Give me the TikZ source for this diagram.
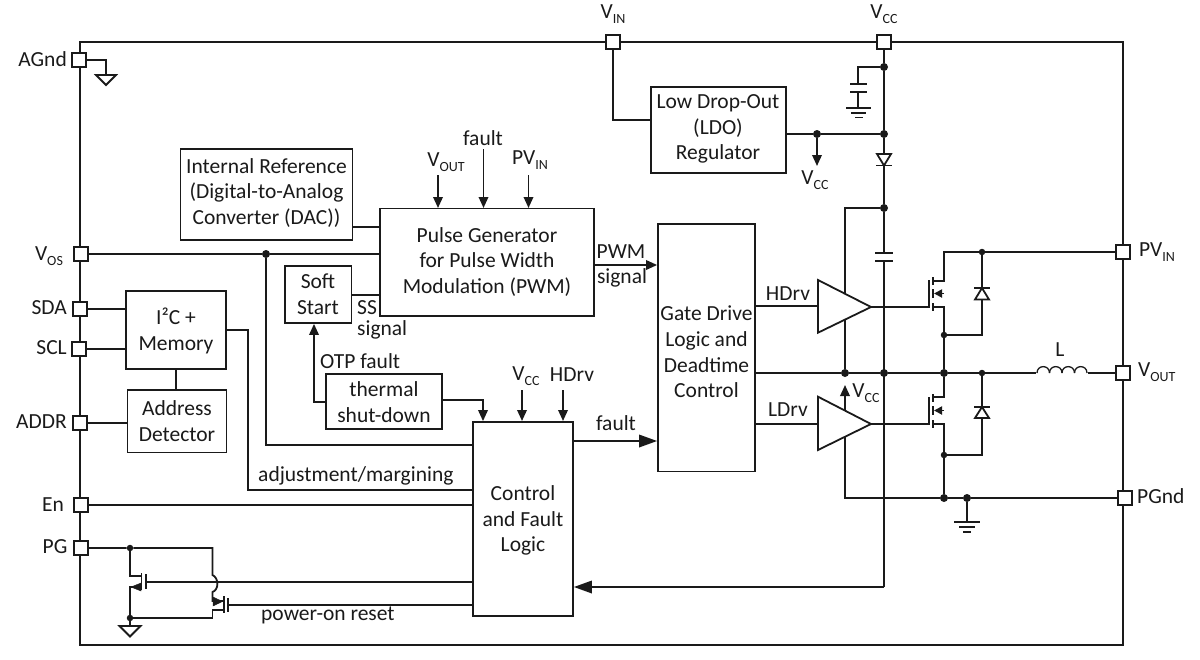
\documentclass[tikz,border=0pt]{standalone}
\usepackage{fontspec}
\setmainfont{Carlito}
\usetikzlibrary{arrows.meta,backgrounds}
\definecolor{ink}{HTML}{1A1A1A}
\newcommand{\subt}[1]{{\fontsize{14}{14}\selectfont\raisebox{-5.5pt}{#1}}}
\tikzset{
  x=1pt,y=-1pt,
  every node/.style={text=ink,font=\fontsize{21.5}{25.7}\selectfont,inner sep=0pt,align=center},
  wire/.style={draw=ink,line width=1.8pt},
  arr/.style={wire,-{Triangle[length=11pt,width=9.5pt]}},
  bigarr/.style={wire,-{Triangle[length=18pt,width=12.5pt]}},
  pin/.style={draw=ink,fill=white,line width=1.3pt,minimum size=14pt},
  box/.style={draw=ink,fill=white,line width=1.8pt},
  amp/.style={draw=ink,fill=white,line width=1.8pt,line join=miter},
  jn/.style={circle,fill=ink,minimum size=8pt},
  jns/.style={circle,fill=ink,minimum size=6.5pt},
}
\newcommand{\bx}[5]{\node[box,minimum width=#3-#2,minimum height=#5-#4] (#1) at ({(#2+#3)/2},{(#4+#5)/2}) {};}
\begin{document}
\begin{tikzpicture}
\useasboundingbox (0,0) rectangle (1200,659);
% pins
\node[pin] (pAgnd) at (79,60) {};
\node[pin] (pVos) at (81,254) {};
\node[pin] (pSda) at (80,309) {};
\node[pin] (pScl) at (79,349) {};
\node[pin] (pAddr) at (80,423) {};
\node[pin] (pEn) at (81,505) {};
\node[pin] (pPg) at (81,548) {};
\node[pin] (pVin) at (613,42) {};
\node[pin] (pVcc) at (884,42) {};
\node[pin] (pPvin) at (1123,252) {};
\node[pin] (pVout) at (1123,373) {};
\node[pin] (pPgnd) at (1125,498) {};
% boxes
\bx{iref}{180.5}{352.5}{149}{240}
\bx{pgen}{380}{594}{208.5}{316}
\bx{soft}{285}{351.5}{266}{323}
\bx{ictwo}{126}{226}{291}{369}
\bx{addr}{127.5}{226.5}{390}{452.5}
\bx{ctrl}{473}{573}{422}{616}
\bx{therm}{326}{442}{374}{429}
\bx{gate}{658}{755}{224}{471.5}
\bx{ldo}{651}{786}{87}{173}
% amplifiers
\draw[amp] (818,280) -- (818,332.7) -- (871,307) -- cycle;
\draw[amp] (818,396.7) -- (818,450) -- (871,424) -- cycle;
\coordinate (ampHin) at (818,306);
\coordinate (ampLin) at (818,424);
\coordinate (ampHout) at (871,307);
\coordinate (ampLout) at (871,424);
\coordinate (ampHtop) at (845,293);
\coordinate (ampHbot) at (845,320);
\coordinate (ampLtop) at (845,410);
\coordinate (ampLbot) at (845,437);
% junctions
\node[jn] (jA) at (266,254) {};
\node[jn] (jB) at (884,67) {};
\node[jn] (jC) at (884,134) {};
\node[jn] (jD) at (817,134) {};
\node[jn] (jE) at (884,208) {};
\node[jn] (jF) at (845,373) {};
\node[jn] (jG) at (884,373) {};
\node[jn] (jH) at (944,373) {};
\node[jns] (jI) at (982,373) {};
\node[jns] (jJ) at (982,252) {};
\node[jns] (jK) at (944,335) {};
\node[jns] (jL) at (944,455) {};
\node[jn] (jM) at (944,498) {};
\node[jn] (jN) at (967,498) {};
\node[jns] (jO) at (130,548) {};
\node[jns] (jP) at (130,618) {};
\begin{scope}[on background layer]
\draw[wire] (80,42) rectangle (1123,645);
\draw[wire] (pAgnd.east) -- (106,60) -- (106,75);
\draw[wire,line join=miter] (96,75) -- (116,75) -- (106,85) -- cycle;
\draw[wire] (pVos.east) -- (jA) -- (380,254);
\draw[wire] (iref.east |- 0,227) -- (380,227);
\draw[wire] (soft.east |- 0,295) -- (380,295);
\draw[wire] (jA) -- (266,445) -- (ctrl.west |- 0,445);
\draw[wire] (pSda.east) -- (ictwo.west |- pSda);
\draw[wire] (pScl.east) -- (ictwo.west |- pScl);
\draw[wire] (pAddr.east) -- (addr.west |- pAddr);
\draw[wire] (ictwo.south) -- (ictwo.south |- addr.north);
\draw[wire] (ictwo.east |- 0,330) -- (248,330) -- (248,490) -- (ctrl.west |- 0,490);
\draw[wire] (pEn.east) -- (ctrl.west |- pEn);
\draw[arr] (therm.west |- 0,402) -- (314,402) -- (314,402 |- soft.south);
\draw[arr] (therm.east |- 0,400) -- (483,400) -- (483,400 |- ctrl.north);
\draw[bigarr] (ctrl.east |- 0,441) -- (gate.west |- 0,441);
\draw[arr] (pgen.east |- 0,265) -- (gate.west |- 0,265);
\draw[wire] (gate.east |- ampHin) -- (ampHin);
\draw[wire] (gate.east |- ampLin) -- (ampLin);
\draw[wire] (gate.east |- jF) -- (jF) -- (jG) -- (jH) -- (jI) -- (1036,373);
\draw[wire] (1088,373) -- (pVout.west);
\foreach \xa in {1037,1049.5,1062,1074.5}
  \draw[wire,line width=1.3pt] (\xa,373) .. controls (\xa,364.5) and ({\xa+12.5},364.5) .. ({\xa+12.5},373);
% supply column
\draw[wire] (pVcc.south) -- (jB) -- (jC) -- (jE) -- (884,253);
\draw[wire] (884,261) -- (884,587);
\draw[bigarr] (884,587) -- (ctrl.east |- 0,587);
\draw[wire] (875,253) -- (893,253);
\draw[wire] (875,261) -- (893,261);
\draw[wire] (jB) -- (858,67) -- (858,84);
\draw[wire] (850,84) -- (867,84);
\draw[wire] (850,92) -- (867,92);
\draw[wire] (858,92) -- (858,108);
\draw[wire] (846,108) -- (871,108);
\draw[wire] (851,113) -- (866,113);
\draw[wire] (855,117.5) -- (863,117.5);
\draw[wire] (pVin.south) -- (613,120) -- (ldo.west |- 0,120);
\draw[wire] (ldo.east |- jD) -- (jD) -- (jC);
\draw[arr] (jD) -- (817,166);
\draw[wire] (jE) -- (845,208) -- (ampHtop);
\draw[wire] (ampHbot) -- (jF);
\draw[arr] (ampLtop) -- (845,385);
\draw[wire] (ampLbot) -- (845,498) -- (jM) -- (jN) -- (pPgnd.west);
\draw[wire] (jN) -- (967,522);
\draw[wire] (954,522) -- (980,522);
\draw[wire] (959,527) -- (975,527);
\draw[wire] (963,532) -- (971,532);
% upper FET
\draw[wire] (ampHout) -- (929,307);
\draw[wire] (929,280) -- (929,308);
\draw[wire] (933,277) -- (933,285);
\draw[wire] (933,289) -- (933,298);
\draw[wire] (933,303) -- (933,311);
\draw[wire] (933,281) -- (944,281) -- (944,252) -- (jJ) -- (pPvin.west);
\draw[wire,-{Triangle[length=8pt,width=8pt]}] (944,293.5) -- (934,293.5);
\draw[wire] (933,307) -- (944,307) -- (jK) -- (jH);
\draw[wire] (jK) -- (982,335) -- (jJ);
% lower FET
\draw[wire] (ampLout) -- (929,424);
\draw[wire] (929,397) -- (929,425);
\draw[wire] (933,394) -- (933,402);
\draw[wire] (933,406) -- (933,415);
\draw[wire] (933,420) -- (933,428);
\draw[wire] (933,397) -- (944,397) -- (jH);
\draw[wire,-{Triangle[length=8pt,width=8pt]}] (944,410.5) -- (934,410.5);
\draw[wire] (933,424) -- (944,424) -- (jL) -- (jM);
\draw[wire] (jL) -- (982,455) -- (jI);
% PG transistors
\draw[wire] (pPg.east) -- (jO) -- (212.5,548) -- (212.5,575) .. controls (219,578) and (219,590) .. (212.5,592) -- (212.5,601) -- (223,601);
\draw[wire] (224,596) -- (224,613);
\draw[wire] (228,598) -- (228,612);
\draw[wire] (ctrl.west |- 0,605) -- (228,605);
\draw[wire] (224,610) -- (212.5,610) -- (212.5,618) -- (jP);
\draw[wire] (jO) -- (130,576) -- (141,576);
\draw[wire] (141.5,573) -- (141.5,590);
\draw[wire] (146,574) -- (146,589);
\draw[wire] (ctrl.west |- 0,582) -- (146,582);
\draw[wire] (141,587) -- (130,587) -- (jP);
\draw[wire] (jP) -- (130,626);
\draw[wire,line join=miter] (119.5,626) -- (140.5,626) -- (130,636.5) -- cycle;
% small arrows
\draw[arr] (438,175) -- (438,208);
\draw[arr] (483.5,149) -- (483.5,208);
\draw[arr] (528.5,175) -- (528.5,208);
\draw[arr] (522,390) -- (522,421);
\draw[arr] (563,390) -- (563,421);
\end{scope}
\draw[fill=ink,draw=ink] (213,597) -- (222.5,601.5) -- (213,606) -- cycle;
\draw[fill=ink,draw=ink] (141,583) -- (131,587) -- (141,591) -- cycle;
% diodes
\draw[wire,fill=white,line join=miter] (877,154) -- (891,154) -- (884,165.5) -- cycle;
\draw[wire] (876,165.5) -- (892,165.5);
\draw[wire,fill=white,line join=miter] (975,299.5) -- (989,299.5) -- (982,288) -- cycle;
\draw[wire] (974,288) -- (990,288);
\draw[wire,fill=white,line join=miter] (975,418) -- (989,418) -- (982,407) -- cycle;
\draw[wire] (974,407) -- (990,407);
% pin labels
\node[anchor=east] (tAgnd) at (67,59) {AGnd};
\node (tVos) at (49,256) {V\subt{OS}};
\node[anchor=east] (tSda) at (67,308) {SDA};
\node[anchor=east] (tScl) at (67,348) {SCL};
\node[anchor=east] (tAddr) at (67,422) {ADDR};
\node (tEn) at (53,505) {En};
\node (tPg) at (55,547) {PG};
\node (tVin) at (613,14) {V\subt{IN}};
\node (tVcc) at (884,14) {V\subt{CC}};
\node[anchor=west] (tPvin) at (1139,252) {PV\subt{IN}};
\node[anchor=west] (tVout) at (1138,372) {V\subt{OUT}};
\node[anchor=west] (tPgnd) at (1137,496) {PGnd};
% box texts
\node (xIref) at (266.5,193) {Internal Reference\\(Digital-to-Analog\\Converter (DAC))};
\node (xPgen) at (487,262) {Pulse Generator\\for Pulse Width\\Modulation (PWM)};
\node (xSoft) at (318,294) {Soft\\Start};
\node (xIc) at (176,331) {I²C +\\Memory};
\node (xAddr) at (177,421) {Address\\Detector};
\node (xCtrl) at (523,520.5) {Control\\and Fault\\Logic};
\node (xTherm) at (384,402) {thermal\\shut-down};
\node (xGate) at (706.5,352) {Gate Drive\\Logic and\\Deadtime\\Control};
\node (xLdo) at (718,129) {Low Drop-Out\\(LDO)\\Regulator};
% signal labels
\node (lVout) at (446,162) {V\subt{OUT}};
\node (lFault) at (483,138) {fault};
\node (lPvin) at (530,160) {PV\subt{IN}};
\node (lPwm) at (621,252) {PWM};
\node (lSig) at (622,278) {signal};
\node[anchor=west] (lSs) at (357,308) {SS};
\node[anchor=west] (lSsig) at (357,330) {signal};
\node[anchor=west] (lOtp) at (320,361) {OTP fault};
\node (lHd) at (788,294) {HDrv};
\node (lLd) at (788,410) {LDrv};
\node (lF2) at (616,423) {fault};
\node (lVc) at (526,376) {V\subt{CC}};
\node (lHd2) at (572,375) {HDrv};
\node[anchor=west] (lAdj) at (258,476) {adjustment/margining};
\node[anchor=west] (lPor) at (261,615) {power-on reset};
\node (lL) at (1060,350) {L};
\node (lV1) at (815,180) {V\subt{CC}};
\node (lV2) at (866,393) {V\subt{CC}};
\end{tikzpicture}
\end{document}
